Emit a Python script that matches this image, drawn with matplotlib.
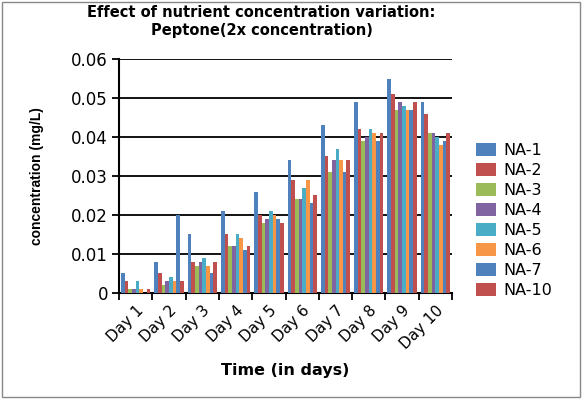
import numpy as np
import matplotlib.pyplot as plt
from matplotlib.patches import Rectangle

days = ['Day 1', 'Day 2', 'Day 3', 'Day 4', 'Day 5', 'Day 6', 'Day 7', 'Day 8', 'Day 9', 'Day 10']

na1 = [0.005, 0.008, 0.015, 0.021, 0.026, 0.034, 0.043, 0.049, 0.055, 0.049]
na2 = [0.003, 0.005, 0.008, 0.015, 0.020, 0.029, 0.035, 0.042, 0.051, 0.046]
na3 = [0.001, 0.002, 0.007, 0.012, 0.018, 0.024, 0.031, 0.039, 0.047, 0.041]
na4 = [0.001, 0.003, 0.008, 0.012, 0.019, 0.024, 0.034, 0.040, 0.049, 0.041]
na5 = [0.003, 0.004, 0.009, 0.015, 0.021, 0.027, 0.037, 0.042, 0.048, 0.040]
na6 = [0.001, 0.003, 0.007, 0.014, 0.020, 0.029, 0.034, 0.041, 0.047, 0.038]
na7 = [0.000, 0.020, 0.005, 0.011, 0.019, 0.023, 0.031, 0.039, 0.047, 0.039]
na10 = [0.001, 0.003, 0.008, 0.012, 0.018, 0.025, 0.034, 0.041, 0.049, 0.041]

series = [na1, na2, na3, na4, na5, na6, na7, na10]
names = ['NA-1', 'NA-2', 'NA-3', 'NA-4', 'NA-5', 'NA-6', 'NA-7', 'NA-10']
colors = ['#4F81BD', '#C0504D', '#9BBB59', '#8064A2', '#4BACC6', '#F79646', '#4F81BD', '#C0504D']

fig = plt.figure(figsize=(5.84, 3.99), dpi=100)
ax = fig.add_axes([0.204, 0.266, 0.570, 0.586])

x = np.arange(len(days))
w = 0.11
for i in range(len(series)):
    ax.bar(x + (i - 3.5) * w, series[i], w, color=colors[i], label=names[i], zorder=3)

ax.set_xlim(-0.5, 9.5)
ax.set_ylim(0, 0.06)
ax.set_yticks([0, 0.01, 0.02, 0.03, 0.04, 0.05, 0.06])
ax.set_yticklabels(['0', '0.01', '0.02', '0.03', '0.04', '0.05', '0.06'], fontsize=12)
ax.yaxis.grid(True, color='black', linewidth=1.3)
ax.set_axisbelow(True)

ax.set_xticks(np.arange(-0.5, 10, 1))
ax.set_xticklabels([])
ax.set_xticks(x, minor=True)
ax.set_xticklabels(days, minor=True, rotation=45, ha='right', va='top',
                   rotation_mode='anchor', fontsize=11)
ax.tick_params(axis='x', which='minor', length=0, pad=7)
ax.tick_params(axis='x', which='major', length=5, width=1.3)
ax.tick_params(axis='y', length=5, width=1.3, pad=3)

for s in ['top', 'right']:
    ax.spines[s].set_visible(False)
for s in ['left', 'bottom']:
    ax.spines[s].set_linewidth(1.5)

ax.set_ylabel('concentration (mg/L)', fontsize=10, fontweight='bold', family='Liberation Sans')
ax.yaxis.set_label_coords(-0.225, 0.5)
ax.set_xlabel('Time (in days)', fontsize=11.5, fontweight='bold')
ax.xaxis.set_label_coords(0.5, -0.30)

fig.text(0.448, 0.988, 'Effect of nutrient concentration variation:\nPeptone(2x concentration)',
         ha='center', va='top', fontsize=10.5, fontweight='bold', linespacing=1.25)

ax.legend(loc='center left', bbox_to_anchor=(1.03, 0.31), frameon=False, fontsize=11.5,
          handlelength=1.2, handleheight=0.9, labelspacing=0.3, handletextpad=0.5)

fig.patches.append(Rectangle((0.003, 0.005), 0.99, 0.99, transform=fig.transFigure,
                             fill=False, edgecolor='#888888', linewidth=1))

fig.savefig('out.png', dpi=100)
